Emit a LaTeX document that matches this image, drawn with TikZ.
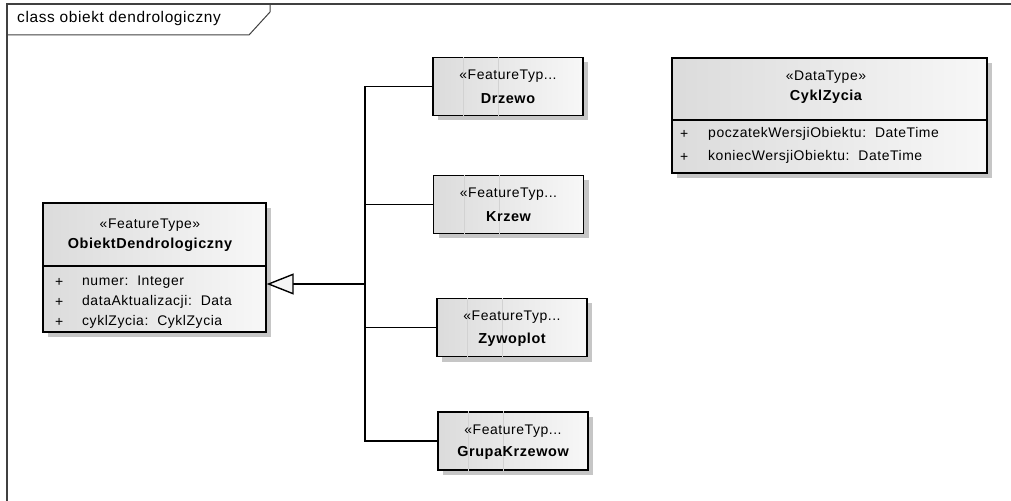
\documentclass[tikz,border=0pt]{standalone}
\usepackage{fontspec}
\setmainfont{Liberation Sans}[LetterSpace=4]
\usetikzlibrary{arrows.meta,positioning,shadows}

\tikzset{
  klasa/.style={draw, line width=1.4bp, left color=gray!28, right color=gray!6,
    drop shadow={shadow xshift=5bp, shadow yshift=-5bp, fill=gray!45, opacity=1}},
  napis/.style={inner sep=0pt, font=\fontsize{14}{16}\selectfont},
  gruby/.style={napis, font=\fontsize{14.5}{16}\selectfont\bfseries},
  atrybut/.style={napis, anchor=west},
  polacz/.style={line width=1.4bp},
  smuga/.style={gray!35, line width=0.5bp}
}

\begin{document}
\begin{tikzpicture}[x=1bp,y=-1bp]
\useasboundingbox (0,0) rectangle (1011,501);
% ramka diagramu
\draw[line width=1.2bp, black!75] (7,510) -- (7,4) -- (1020,4);
\draw[line width=1bp, black!75] (7,35) -- (249,35) -- (270,12) -- (270,4);
\node[napis, anchor=west, font=\fontsize{15.5}{17}\selectfont] (tytul) at (17,19) {class obiekt dendrologiczny};

% klasa glowna
\node[klasa, minimum width=223bp, minimum height=129bp] (obiekt) at (154.5,267.5) {};
\draw[line width=1.4bp] (43,266) -- (266,266);
\node[napis] (obiektSt) at (150,225) {«FeatureType»};
\node[gruby] (obiektNazwa) at (150,245) {ObiektDendrologiczny};
\foreach \y/\lab in {282/numer:\ \ Integer,302/dataAktualizacji:\ \ Data,322/cyklZycia:\ \ CyklZycia}{
  \node[atrybut] at (55,\y) {+};
  \node[atrybut] at (82,\y) {\lab};}

% typ danych
\node[klasa, minimum width=315bp, minimum height=115bp] (cykl) at (829.5,115.5) {};
\draw[line width=1.4bp] (672,120) -- (987,120);
\node[napis] (cyklSt) at (826,77) {«DataType»};
\node[gruby] (cyklNazwa) at (826,97) {CyklZycia};
\node[atrybut] at (680,134) {+};
\node[atrybut] at (708,134) {poczatekWersjiObiektu:\ \ DateTime};
\node[atrybut] at (680,157) {+};
\node[atrybut] at (708,157) {koniecWersjiObiektu:\ \ DateTime};

% podklasy
\foreach \nm/\x/\y/\lab in {drzewo/508/86.5/Drzewo,krzew/508.5/204.5/Krzew,
    zywoplot/512/327.5/Zywoplot,grupa/513/441/GrupaKrzewow}{
  \node[klasa, minimum width=150bp, minimum height=58bp] (\nm) at (\x,\y) {};
  \draw[smuga] ([xshift=31bp]\nm.north west) -- ([xshift=31bp]\nm.south west);
  \draw[smuga] ([xshift=66bp]\nm.north west) -- ([xshift=66bp]\nm.south west);
  \node[napis] at ([yshift=10bp]\nm.center) {«FeatureTyp...};
  \node[gruby] at ([yshift=-12bp]\nm.center) {\lab};}

% generalizacja
\coordinate (rozgal) at (365,284);
\draw[polacz, -{Triangle[open, length=27bp, width=21bp, fill=gray!8]}] (rozgal) -- (rozgal -| obiekt.east);
\draw[polacz] (drzewo.west) -| (rozgal) |- (grupa.west);
\draw[polacz] (krzew.west) -- (krzew.west -| rozgal);
\draw[polacz] (zywoplot.west) -- (zywoplot.west -| rozgal);
\end{tikzpicture}
\end{document}
